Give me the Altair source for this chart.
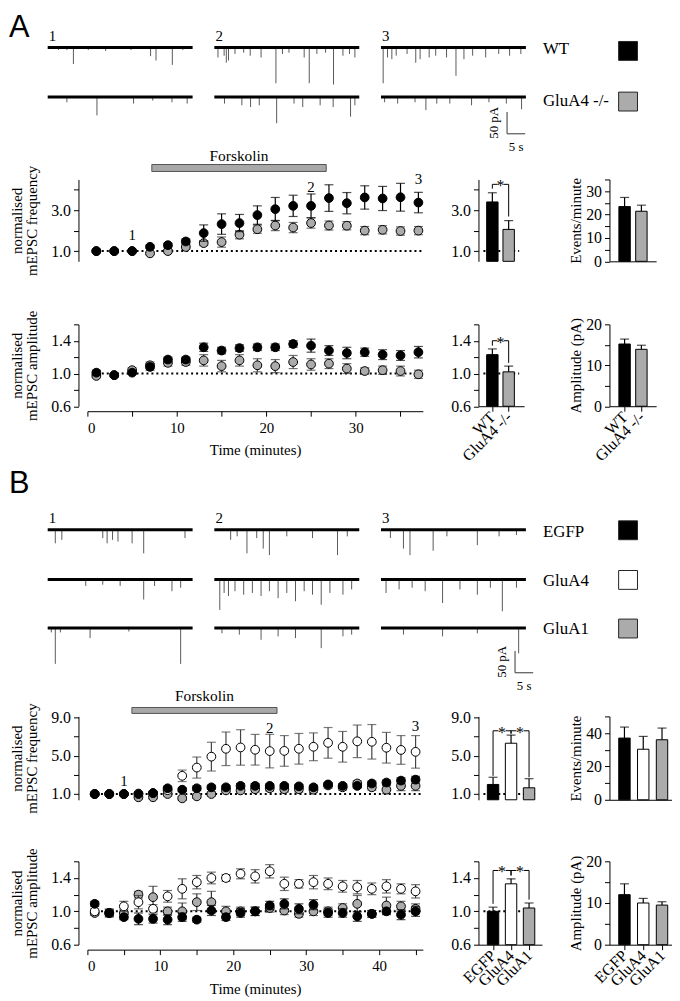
import altair as alt
import pandas as pd

SERIF = "Liberation Serif"
SANS = "Liberation Sans"
GREY = "#ababab"

# ---------------- Panel A: time course (minutes) ----------------
A_time = [1, 3, 5, 7, 9, 11, 13, 15, 17, 19, 21, 23, 25, 27, 29, 31, 33, 35, 37]
A_freq_wt = [1.0, 1.0, 1.0, 1.21, 1.29, 1.47, 1.88, 2.32, 2.37, 2.76, 3.05, 3.21, 3.21, 3.59, 3.34, 3.62, 3.57, 3.63, 3.37]
A_freq_wt_err = [0.03, 0.03, 0.03, 0.08, 0.1, 0.12, 0.4, 0.5, 0.42, 0.45, 0.57, 0.52, 0.58, 0.65, 0.52, 0.57, 0.59, 0.68, 0.5]
A_freq_ko = [1.0, 1.0, 1.0, 0.89, 1.0, 1.2, 1.39, 1.44, 1.8, 2.07, 2.25, 2.15, 2.37, 2.25, 2.24, 2.0, 2.04, 1.98, 2.0]
A_freq_ko_err = [0.03, 0.03, 0.03, 0.05, 0.08, 0.1, 0.12, 0.25, 0.2, 0.2, 0.25, 0.25, 0.25, 0.22, 0.2, 0.2, 0.2, 0.2, 0.2]
A_amp_wt = [1.01, 0.98, 1.01, 1.08, 1.17, 1.17, 1.32, 1.28, 1.31, 1.32, 1.32, 1.36, 1.34, 1.28, 1.25, 1.26, 1.23, 1.22, 1.26]
A_amp_wt_err = [0.03, 0.02, 0.02, 0.04, 0.03, 0.03, 0.05, 0.04, 0.04, 0.04, 0.04, 0.04, 0.08, 0.06, 0.07, 0.05, 0.06, 0.06, 0.07]
A_amp_ko = [0.97, 0.98, 1.04, 1.10, 1.13, 1.14, 1.16, 1.09, 1.16, 1.10, 1.09, 1.14, 1.11, 1.12, 1.06, 1.03, 1.04, 1.03, 0.99]
A_amp_ko_err = [0.02, 0.02, 0.03, 0.04, 0.04, 0.04, 0.07, 0.07, 0.07, 0.08, 0.08, 0.08, 0.07, 0.06, 0.06, 0.04, 0.05, 0.06, 0.05]

# ---------------- Panel B: time course (minutes) ----------------
B_time = [1, 3, 5, 7, 9, 11, 13, 15, 17, 19, 21, 23, 25, 27, 29, 31, 33, 35, 37, 39, 41, 43, 45]
B_freq_egfp = [1.0, 1.0, 1.0, 1.0, 1.1, 1.6, 1.45, 1.6, 1.7, 1.7, 1.85, 1.85, 1.85, 1.85, 1.8, 1.7, 2.0, 1.85, 1.85, 2.1, 2.2, 2.4, 2.5]
B_freq_egfp_err = [0.05, 0.05, 0.05, 0.1, 0.1, 0.2, 0.2, 0.25, 0.2, 0.2, 0.25, 0.25, 0.2, 0.2, 0.2, 0.2, 0.15, 0.2, 0.2, 0.25, 0.25, 0.3, 0.35]
B_freq_glua4 = [1.0, 1.0, 1.0, 1.05, 1.1, 1.4, 2.9, 3.76, 4.9, 5.72, 5.86, 5.62, 5.48, 5.5, 5.72, 5.93, 6.34, 5.93, 6.5, 6.45, 5.83, 5.6, 5.4]
B_freq_glua4_err = [0.05, 0.05, 0.1, 0.15, 0.2, 0.3, 0.6, 1.1, 1.5, 1.75, 1.85, 1.6, 1.75, 1.6, 1.6, 1.45, 1.6, 1.6, 1.7, 1.8, 1.6, 1.5, 1.7]
B_freq_glua1 = [1.0, 1.0, 1.0, 0.66, 0.66, 1.0, 0.55, 0.76, 1.0, 1.38, 1.38, 1.5, 1.6, 1.5, 1.5, 1.45, 1.9, 1.7, 2.1, 1.7, 1.45, 1.85, 1.85]
B_freq_glua1_err = [0.05, 0.05, 0.05, 0.15, 0.15, 0.2, 0.2, 0.2, 0.2, 0.2, 0.3, 0.3, 0.3, 0.3, 0.3, 0.3, 0.3, 0.3, 0.3, 0.3, 0.4, 0.5, 0.5]
B_amp_egfp = [1.09, 0.98, 0.93, 0.91, 0.91, 0.90, 0.93, 0.90, 1.01, 0.93, 0.98, 1.00, 1.07, 1.09, 1.03, 1.08, 0.98, 0.98, 0.94, 0.97, 1.00, 0.96, 1.00]
B_amp_egfp_err = [0.03, 0.04, 0.03, 0.07, 0.05, 0.06, 0.05, 0.03, 0.06, 0.04, 0.05, 0.05, 0.05, 0.06, 0.06, 0.06, 0.05, 0.05, 0.06, 0.04, 0.04, 0.06, 0.06]
B_amp_glua4 = [1.0, 0.98, 1.06, 1.11, 1.03, 1.18, 1.27, 1.35, 1.40, 1.40, 1.45, 1.42, 1.48, 1.33, 1.33, 1.35, 1.33, 1.30, 1.29, 1.27, 1.30, 1.27, 1.24]
B_amp_glua4_err = [0.03, 0.05, 0.06, 0.08, 0.05, 0.07, 0.12, 0.08, 0.07, 0.04, 0.06, 0.08, 0.08, 0.08, 0.05, 0.08, 0.07, 0.07, 0.08, 0.07, 0.08, 0.06, 0.08]
B_amp_glua1 = [0.98, 0.98, 0.98, 1.20, 1.17, 1.00, 1.00, 1.11, 1.11, 1.00, 1.00, 1.00, 1.04, 1.01, 0.97, 1.00, 1.00, 1.04, 1.09, 0.97, 1.07, 1.06, 1.03]
B_amp_glua1_err = [0.03, 0.03, 0.04, 0.04, 0.13, 0.05, 0.1, 0.1, 0.13, 0.06, 0.05, 0.05, 0.05, 0.05, 0.04, 0.05, 0.05, 0.05, 0.1, 0.04, 0.1, 0.06, 0.06]

# ---------------- Bar summaries ----------------
A_groups = ["WT", "GluA4 -/-"]
A_bar_freq = [3.40, 2.06]
A_bar_freq_err = [0.45, 0.43]
A_bar_events = [23.4, 21.4]
A_bar_events_err = [3.9, 2.6]
A_bar_amp = [1.23, 1.02]
A_bar_amp_err = [0.07, 0.07]
A_bar_pA = [15.2, 13.9]
A_bar_pA_err = [1.2, 1.0]

B_groups = ["EGFP", "GluA4", "GluA1"]
B_bar_freq = [2.0, 6.3, 1.65]
B_bar_freq_err = [0.75, 0.85, 0.95]
B_bar_events = [37.0, 30.3, 36.0]
B_bar_events_err = [6.6, 7.7, 7.0]
B_bar_amp = [1.00, 1.33, 1.04]
B_bar_amp_err = [0.05, 0.06, 0.06]
B_bar_pA = [12.0, 10.0, 9.5]
B_bar_pA_err = [2.6, 1.1, 0.8]

# ---------------- Example traces: event times (s) and amplitudes (pA) ----------------
A_trace_rows = ["WT", "GluA4 -/-"]
A_spikes = {
    ("WT", 0): ([3.0, 5.3, 7.1, 11.2, 16.0, 23.0, 28.4, 29.9, 34.4, 37.3], [6, 6, 38, 6, 8, 6, 20, 30, 40, 6]),
    ("WT", 1): ([1.0, 2.7, 3.3, 3.9, 5.7, 8.1, 9.9, 12.9, 17.0, 18.8, 20.6, 24.8, 26.2, 28.3, 30.7, 32.9, 35.5, 37.3, 38.8],
                [23, 19, 35, 30, 15, 12, 19, 23, 82, 15, 12, 23, 82, 15, 12, 85, 19, 15, 23]),
    ("WT", 2): ([0.6, 1.8, 3.0, 4.2, 7.2, 9.6, 10.8, 13.3, 15.1, 18.1, 20.7, 22.9, 25.3, 28.9, 32.5, 35.5, 38.6],
                [82, 23, 27, 19, 15, 35, 27, 23, 19, 23, 65, 27, 19, 23, 15, 19, 15]),
    ("GluA4 -/-", 0): ([5.3, 13.6, 23.7, 29.0, 34.3, 38.5], [12, 42, 15, 8, 12, 15]),
    ("GluA4 -/-", 1): ([2.8, 7.6, 10.0, 12.4, 17.2, 22.0, 24.4, 29.2, 32.8, 37.6, 38.8], [15, 19, 23, 19, 60, 15, 23, 19, 23, 45, 19]),
    ("GluA4 -/-", 2): ([1.0, 4.6, 9.4, 12.4, 15.4, 19.0, 25.0, 29.8, 34.6, 38.8], [12, 15, 12, 30, 15, 15, 19, 12, 15, 28]),
}
B_trace_rows = ["EGFP", "GluA4", "GluA1"]
B_spikes = {
    ("EGFP", 0): ([2.1, 3.9, 15.2, 16.4, 17.9, 19.4, 23.3, 26.5, 37.9], [31, 23, 19, 31, 23, 27, 31, 54, 19]),
    ("EGFP", 1): ([4.5, 6.3, 9.0, 11.7, 13.5, 15.2, 20.0, 27.1, 34.0, 36.7], [23, 15, 54, 19, 43, 58, 15, 19, 58, 15]),
    ("EGFP", 2): ([2.6, 6.2, 8.0, 14.4, 18.2, 26.6, 32.6, 37.4], [19, 43, 58, 48, 15, 35, 15, 12]),
    ("GluA4", 0): ([10.5, 15.2, 20.0, 26.5, 29.5, 34.3, 36.7], [15, 12, 15, 46, 15, 27, 19]),
    ("GluA4", 1): ([1.5, 2.7, 3.9, 5.7, 8.1, 10.5, 12.9, 15.2, 17.6, 20.0, 22.4, 24.8, 27.1, 29.5, 31.9, 35.5, 37.9],
                   [70, 31, 38, 27, 35, 31, 38, 27, 43, 31, 50, 27, 35, 58, 31, 35, 23]),
    ("GluA4", 2): ([1.4, 5.0, 8.6, 12.2, 17.0, 21.8, 26.6, 30.2, 33.5, 37.4], [31, 23, 19, 27, 54, 23, 35, 19, 73, 19]),
    ("GluA1", 0): ([1.0, 2.1, 3.5, 11.7, 22.4, 36.7], [10, 82, 10, 23, 8, 82]),
    ("GluA1", 1): ([2.1, 6.9, 12.9, 17.6, 22.4, 29.5, 35.5, 37.9], [12, 15, 27, 19, 23, 46, 19, 15]),
    ("GluA1", 2): ([6.2, 17.0, 26.6, 38.0], [15, 19, 12, 58]),
}
TRACE_STARTS = [0, 46, 92]
TRACE_LEN = 40


def lab_expr(vals):
    arr = ",".join(repr(float(v)) for v in vals)
    return f"indexof([{arr}], datum.value) >= 0 ? datum.label : ''"


def spacer(h):
    return alt.Chart(pd.DataFrame({"v": [0]})).mark_point(opacity=0).encode(
        x=alt.X("v:Q", axis=None), y=alt.Y("v:Q", axis=None)).properties(width=1, height=h)


# ---------------- trace panel ----------------
def trace_chart(letter, rows, offsets, spikes, fills, text_y, sq_y, sb, ytop, height):
    width = 585
    x0 = 10.96
    xs = alt.Scale(domain=[x0, x0 + width / 3.65], nice=False, zero=False)
    ys = alt.Scale(domain=[ytop - height / 0.44, ytop], nice=False, zero=False)
    X = lambda f: alt.X(f, type="quantitative", scale=xs, axis=None)
    Y = lambda f: alt.Y(f, type="quantitative", scale=ys, axis=None)

    sp = []
    for (row, col), (ts, ds) in spikes.items():
        off = offsets[rows.index(row)]
        for t, d in zip(ts, ds):
            sp.append({"x": TRACE_STARTS[col] + t, "y": off, "y2": off - d})
    base = [{"x": s, "x2": s + TRACE_LEN, "y": off} for off in offsets for s in TRACE_STARTS]
    nums = [{"x": s + 0.3, "y": offsets[0] + 9, "label": str(i + 1)} for i, s in enumerate(TRACE_STARTS)]
    leg_t = [{"x": 136.7, "y": ty, "label": r} for r, ty in zip(rows, text_y)]
    leg_s = [{"x": 157.6, "x2": 162.8, "y": c + 21.6, "y2": c - 21.6, "fill": f} for c, f in zip(sq_y, fills)]
    sbx, sbtop = sb
    sb_v = [{"x": sbx, "y": sbtop, "y2": sbtop - 50}]
    sb_h = [{"x": sbx, "x2": sbx + 5, "y": sbtop - 50}]
    sb_lab1 = [{"x": sbx - 1.6, "y": sbtop - 25, "label": "50 pA"}]
    sb_lab2 = [{"x": sbx + 2.5, "y": sbtop - 50 - 29.5, "label": "5 s"}]
    let = [{"x": -10.7, "y": ytop, "label": letter}]

    layers = [
        alt.Chart(pd.DataFrame(sp)).mark_rule(color="#5a5a5a", strokeWidth=1).encode(x=X("x"), y=Y("y"), y2=alt.Y2("y2")),
        alt.Chart(pd.DataFrame(base)).mark_rule(color="black", strokeWidth=3).encode(x=X("x"), x2=alt.X2("x2"), y=Y("y")),
        alt.Chart(pd.DataFrame(nums)).mark_text(font=SERIF, fontSize=15, align="left", baseline="bottom", color="black").encode(x=X("x"), y=Y("y"), text="label:N"),
        alt.Chart(pd.DataFrame(leg_t)).mark_text(font=SERIF, fontSize=17, align="left", baseline="middle", color="black").encode(x=X("x"), y=Y("y"), text="label:N"),
        alt.Chart(pd.DataFrame(leg_s)).mark_rect(stroke="#222222", strokeWidth=1).encode(x=X("x"), x2=alt.X2("x2"), y=Y("y"), y2=alt.Y2("y2"), color=alt.Color("fill:N", scale=None)),
        alt.Chart(pd.DataFrame(sb_v)).mark_rule(color="#555555", strokeWidth=1.2).encode(x=X("x"), y=Y("y"), y2=alt.Y2("y2")),
        alt.Chart(pd.DataFrame(sb_h)).mark_rule(color="#555555", strokeWidth=1.2).encode(x=X("x"), x2=alt.X2("x2"), y=Y("y")),
        alt.Chart(pd.DataFrame(sb_lab1)).mark_text(font=SERIF, fontSize=13, angle=270, align="center", baseline="bottom", color="black").encode(x=X("x"), y=Y("y"), text="label:N"),
        alt.Chart(pd.DataFrame(sb_lab2)).mark_text(font=SERIF, fontSize=13, align="center", baseline="middle", color="black").encode(x=X("x"), y=Y("y"), text="label:N"),
        alt.Chart(pd.DataFrame(let)).mark_text(font=SANS, fontSize=31, align="left", baseline="top", color="black").encode(x=X("x"), y=Y("y"), text="label:N"),
    ]
    return alt.layer(*layers).properties(width=width, height=height)


# ---------------- time-course panel ----------------
def time_chart(time, series, xdom, ydom, yticks, ylabels, ytitle, height, show_x, forsk=None, marks=None):
    xs = alt.Scale(domain=xdom, nice=False, zero=False)
    ys = alt.Scale(domain=ydom, nice=False, zero=False)
    if show_x:
        xaxis = alt.Axis(values=list(range(0, int(xdom[1]) + 1, 5)),
                         labelExpr="datum.value % 10 == 0 ? datum.label : ''",
                         title="Time (minutes)", offset=5, tickSize=5, labelPadding=4, titlePadding=8, grid=False)
    else:
        xaxis = None
    yaxis = alt.Axis(values=yticks, format=".1f", labelExpr=lab_expr(ylabels), title=ytitle, offset=9,
                     tickSize=5, labelPadding=3, titlePadding=11, titleLineHeight=15, labelFontSize=16, grid=False)
    X = lambda f: alt.X(f, type="quantitative", scale=xs, axis=xaxis)
    Y = lambda f: alt.Y(f, type="quantitative", scale=ys, axis=yaxis)

    layers = [alt.Chart(pd.DataFrame({"x": [0.5], "x2": [xdom[1]], "y": [1.0]}))
              .mark_rule(color="black", strokeWidth=2, strokeDash=[2, 3])
              .encode(x=X("x"), x2=alt.X2("x2"), y=Y("y"))]
    for vals, errs, fill, ecol in series:
        df = pd.DataFrame({"t": time, "v": vals,
                           "lo": [v - e for v, e in zip(vals, errs)],
                           "hi": [v + e for v, e in zip(vals, errs)]})
        caps = pd.DataFrame({"t": list(time) * 2, "c": list(df["lo"]) + list(df["hi"])})
        layers.append(alt.Chart(df).mark_rule(color=ecol, strokeWidth=1.2).encode(x=X("t"), y=Y("lo"), y2=alt.Y2("hi")))
        layers.append(alt.Chart(caps).mark_tick(orient="horizontal", size=9, thickness=1.2, color=ecol).encode(x=X("t"), y=Y("c")))
        layers.append(alt.Chart(df).mark_circle(size=78, opacity=1, fill=fill, stroke="black", strokeWidth=1).encode(x=X("t"), y=Y("v")))
    if forsk is not None:
        (fx0, fx1), (fy0, fy1), ty = forsk
        layers.append(alt.Chart(pd.DataFrame({"x": [fx0], "x2": [fx1], "y": [fy0], "y2": [fy1]}))
                      .mark_rect(fill="#a8a8a8", stroke="#555555", strokeWidth=1)
                      .encode(x=X("x"), x2=alt.X2("x2"), y=Y("y"), y2=alt.Y2("y2")))
        layers.append(alt.Chart(pd.DataFrame({"x": [(fx0 + fx1) / 2], "y": [ty], "label": ["Forskolin"]}))
                      .mark_text(font=SERIF, fontSize=15.5, baseline="middle", color="black")
                      .encode(x=X("x"), y=Y("y"), text="label:N"))
    if marks is not None:
        layers.append(alt.Chart(pd.DataFrame(marks)).mark_text(font=SERIF, fontSize=15, baseline="middle", color="black")
                      .encode(x=X("x"), y=Y("y"), text="label:N"))
    return alt.layer(*layers).properties(width=338, height=height)


# ---------------- bar panel ----------------
def bar_chart(names, vals, errs, fills, xdom, ydom, yticks, ylabels, ytitle, fmt, width, height, base, xmode,
              dotted=False, brackets=None, gap=0.0):
    xs = alt.Scale(domain=xdom, nice=False, zero=False)
    ys = alt.Scale(domain=ydom, nice=False, zero=False)
    idx = list(range(1, len(names) + 1))
    if xmode == "labels":
        arr = "[''," + ",".join(f"'{n}'" for n in names) + "]"
        xaxis = alt.Axis(values=idx, labelExpr=f"{arr}[datum.value]", labelAngle=-45, labelAlign="right",
                         labelBaseline="middle", labelOverlap=False, labelFontSize=16, title=None,
                         tickSize=5, labelPadding=3, grid=False)
    elif xmode == "line":
        xaxis = alt.Axis(labels=False, ticks=False, title=None, grid=False)
    else:
        xaxis = None
    yaxis = alt.Axis(values=yticks, format=fmt, labelExpr=lab_expr(ylabels), title=ytitle, offset=0,
                     tickSize=5, labelPadding=3, titlePadding=2, labelFontSize=16, grid=False)
    X = lambda f: alt.X(f, type="quantitative", scale=xs, axis=xaxis)
    Y = lambda f: alt.Y(f, type="quantitative", scale=ys, axis=yaxis)

    df = pd.DataFrame({"i": idx, "v": vals, "base": [base] * len(vals),
                       "top": [v + e for v, e in zip(vals, errs)], "fill": fills})
    layers = []
    if dotted:
        layers.append(alt.Chart(pd.DataFrame({"x": [xdom[0]], "x2": [xdom[1]], "y": [1.0]}))
                      .mark_rule(color="black", strokeWidth=2, strokeDash=[2, 3])
                      .encode(x=X("x"), x2=alt.X2("x2"), y=Y("y")))
    layers.append(alt.Chart(df).mark_bar(size=11.5, stroke="black", strokeWidth=1)
                  .encode(x=X("i"), y=Y("v"), y2=alt.Y2("base"), color=alt.Color("fill:N", scale=None)))
    layers.append(alt.Chart(df).mark_rule(color="black", strokeWidth=1.2).encode(x=X("i"), y=Y("v"), y2=alt.Y2("top")))
    layers.append(alt.Chart(df).mark_tick(orient="horizontal", size=9, thickness=1.2, color="black").encode(x=X("i"), y=Y("top")))
    if brackets:
        legs, segs, stars = [], [], []
        for a, b, lvl in brackets:
            for k in (a, b):
                legs.append({"x": k, "y": vals[k - 1] + errs[k - 1] + gap, "y2": lvl})
            m = (a + b) / 2
            segs.append({"x": a, "x2": m - 0.2, "y": lvl})
            segs.append({"x": m + 0.2, "x2": b, "y": lvl})
            stars.append({"x": m, "y": lvl, "label": "*"})
        layers.append(alt.Chart(pd.DataFrame(legs)).mark_rule(color="black", strokeWidth=1).encode(x=X("x"), y=Y("y"), y2=alt.Y2("y2")))
        layers.append(alt.Chart(pd.DataFrame(segs)).mark_rule(color="black", strokeWidth=1).encode(x=X("x"), x2=alt.X2("x2"), y=Y("y")))
        layers.append(alt.Chart(pd.DataFrame(stars)).mark_text(font=SERIF, fontSize=16, baseline="middle", dy=2, color="black")
                      .encode(x=X("x"), y=Y("y"), text="label:N"))
    return alt.layer(*layers).properties(width=width, height=height)


# ================= Panel A =================
traceA = trace_chart("A", A_trace_rows, [0, -113.6], A_spikes, ["black", GREY],
                     [-4.5, -122.5], [-8, -124], (126.8, -147.7), 79.5, 105)

A_freq_ts = time_chart(A_time, [(A_freq_ko, A_freq_ko_err, GREY, "#333333"), (A_freq_wt, A_freq_wt_err, "black", "black")],
                       [0, 37.5], [0.5, 4.5], [1, 2, 3, 4], [1, 3], ["normalised", "mEPSC frequency"], 82.5, False,
                       forsk=((7.2, 26.7), (4.89, 5.23), 5.62),
                       marks=[{"x": 5, "y": 1.78, "label": "1"}, {"x": 25, "y": 4.11, "label": "2"}, {"x": 37, "y": 4.5, "label": "3"}])
A_amp_ts = time_chart(A_time, [(A_amp_ko, A_amp_ko_err, GREY, "#333333"), (A_amp_wt, A_amp_wt_err, "black", "black")],
                      [0, 37.5], [0.6, 1.6], [0.6, 0.8, 1.0, 1.2, 1.4, 1.6], [0.6, 1.0, 1.4],
                      ["normalised", "mEPSC amplitude"], 82.5, True)

A_freq_bar = bar_chart(A_groups, A_bar_freq, A_bar_freq_err, ["black", GREY], [0.452, 2.643], [0.5, 4.5],
                       [1, 2, 3, 4], [1, 3], None, ".1f", 46, 82.5, 0.5, "none", dotted=True,
                       brackets=[(1, 2, 4.26)], gap=0.2)
A_events_bar = bar_chart(A_groups, A_bar_events, A_bar_events_err, ["black", GREY], [0.395, 2.581], [0, 35],
                         [0, 5, 10, 15, 20, 25, 30, 35], [0, 10, 20, 30], "Events/minute", "d", 47, 82.5, 0, "line")
A_amp_bar = bar_chart(A_groups, A_bar_amp, A_bar_amp_err, ["black", GREY], [0.452, 2.643], [0.6, 1.6],
                      [0.6, 0.8, 1.0, 1.2, 1.4, 1.6], [0.6, 1.0, 1.4], None, ".1f", 46, 82.5, 0.6, "labels",
                      dotted=True, brackets=[(1, 2, 1.40)], gap=0.04)
A_pA_bar = bar_chart(A_groups, A_bar_pA, A_bar_pA_err, ["black", GREY], [0.395, 2.581], [0, 20],
                     [0, 5, 10, 15, 20], [0, 10, 20], "Amplitude (pA)", "d", 47, 82.5, 0, "labels")

rowA1 = alt.hconcat(A_freq_ts, alt.hconcat(A_freq_bar, A_events_bar, spacing=86, bounds="flush"), spacing=56, bounds="flush")
rowA2 = alt.hconcat(A_amp_ts, alt.hconcat(A_amp_bar, A_pA_bar, spacing=86, bounds="flush"), spacing=56, bounds="flush")

# ================= Panel B =================
traceB = trace_chart("B", B_trace_rows, [0, -113.6, -225], B_spikes, ["black", "white", GREY],
                     [-4.5, -118, -227], [-1.1, -114.8, -226.1], (129.0, -277.3), 138.6, 186)

B_series_freq = [(B_freq_glua1, B_freq_glua1_err, GREY, "#333333"),
                 (B_freq_glua4, B_freq_glua4_err, "white", "#444444"),
                 (B_freq_egfp, B_freq_egfp_err, "black", "black")]
B_series_amp = [(B_amp_glua1, B_amp_glua1_err, GREY, "#333333"),
                (B_amp_glua4, B_amp_glua4_err, "white", "#333333"),
                (B_amp_egfp, B_amp_egfp_err, "black", "black")]
B_freq_ts = time_chart(B_time, B_series_freq, [0, 46], [0.4, 9.1], [1, 3, 5, 7, 9], [1, 5, 9],
                       ["normalised", "mEPSC frequency"], 84, False,
                       forsk=((6.1, 26.0), (9.41, 10.03), 11.27),
                       marks=[{"x": 5, "y": 2.37, "label": "1"}, {"x": 25, "y": 7.86, "label": "2"}, {"x": 45, "y": 8.06, "label": "3"}])
B_amp_ts = time_chart(B_time, B_series_amp, [0, 46], [0.6, 1.6], [0.6, 0.8, 1.0, 1.2, 1.4, 1.6], [0.6, 1.0, 1.4],
                      ["normalised", "mEPSC amplitude"], 84, True)

B_fills = ["black", "white", GREY]
B_freq_bar = bar_chart(B_groups, B_bar_freq, B_bar_freq_err, B_fills, [0.465, 3.442], [0.4, 9.1],
                       [1, 3, 5, 7, 9], [1, 5, 9], None, ".1f", 64, 84, 0.4, "none", dotted=True,
                       brackets=[(1, 2, 7.6), (2, 3, 7.6)], gap=0.15)
B_events_bar = bar_chart(B_groups, B_bar_events, B_bar_events_err, B_fills, [0.467, 3.267], [0, 50],
                         [0, 10, 20, 30, 40, 50], [0, 20, 40], "Events/minute", "d", 63, 84, 0, "line")
B_amp_bar = bar_chart(B_groups, B_bar_amp, B_bar_amp_err, B_fills, [0.465, 3.442], [0.6, 1.6],
                      [0.6, 0.8, 1.0, 1.2, 1.4, 1.6], [0.6, 1.0, 1.4], None, ".1f", 64, 84, 0.6, "labels",
                      dotted=True, brackets=[(1, 2, 1.49), (2, 3, 1.49)], gap=0.04)
B_pA_bar = bar_chart(B_groups, B_bar_pA, B_bar_pA_err, B_fills, [0.467, 3.267], [0, 20],
                     [0, 5, 10, 15, 20], [0, 10, 20], "Amplitude (pA)", "d", 63, 84, 0, "labels")

rowB1 = alt.hconcat(B_freq_ts, alt.hconcat(B_freq_bar, B_events_bar, spacing=68, bounds="flush"), spacing=56, bounds="flush")
rowB2 = alt.hconcat(B_amp_ts, alt.hconcat(B_amp_bar, B_pA_bar, spacing=68, bounds="flush"), spacing=56, bounds="flush")

chart = alt.vconcat(
    traceA, spacer(63), rowA1, spacer(145.5), rowA2, spacer(145.5),
    traceB, spacer(63), rowB1, spacer(146), rowB2,
    spacing=0, bounds="flush", padding=0
).configure_axis(
    labelFont=SERIF, labelFontSize=15, titleFont=SERIF, titleFontSize=15, titleFontWeight="normal",
    labelColor="black", titleColor="black", domainColor="black", tickColor="black",
    domainWidth=1, tickWidth=1, grid=False
).configure_view(stroke=None)

chart.save("out.html", embed_options={"renderer": "svg", "actions": False})
